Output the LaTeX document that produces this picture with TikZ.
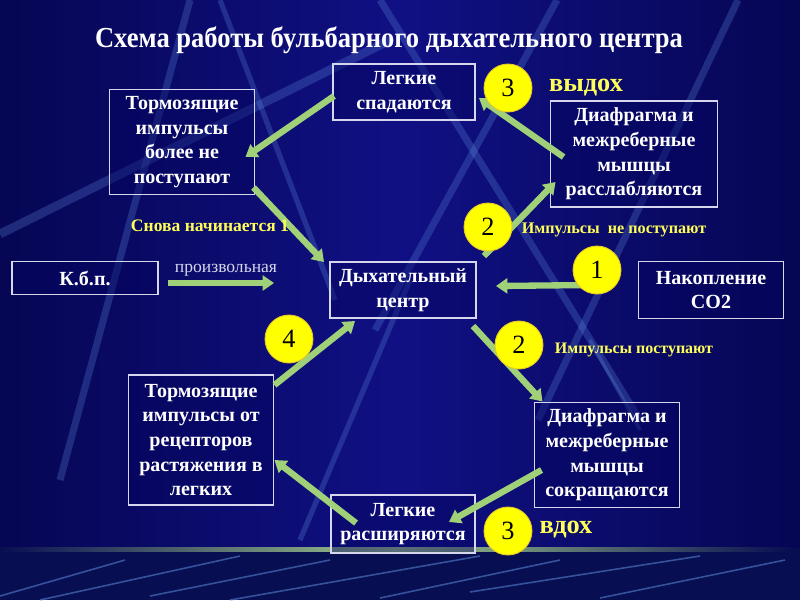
\documentclass[tikz,border=0pt]{standalone}
\usepackage{fontspec}
\setmainfont{Liberation Serif}
\usetikzlibrary{arrows.meta,calc}
\definecolor{bgdark}{RGB}{6,6,84}
\definecolor{bgmid}{RGB}{16,16,132}
\definecolor{bgband}{RGB}{8,14,82}
\definecolor{boxfill}{RGB}{4,4,96}
\definecolor{boxline}{RGB}{214,214,236}
\definecolor{arrowgreen}{RGB}{160,208,120}
\definecolor{numyellow}{RGB}{255,255,0}
\definecolor{numedge}{RGB}{230,200,40}
\definecolor{labelyellow}{RGB}{255,255,90}
\definecolor{streakblue}{RGB}{100,150,230}
\definecolor{bandline}{RGB}{160,200,140}
\begin{document}
\begin{tikzpicture}[x=0.02cm,y=-0.02cm]
\tikzset{
  box/.style={draw=boxline, line width=1.1pt, fill=boxfill, fill opacity=0.45, text opacity=1,
    text=white, align=center, inner sep=1pt,
    font=\bfseries\fontsize{11.4}{14}\selectfont},
  wh/.style 2 args={minimum width={#1*0.02cm}, minimum height={#2*0.02cm}},
  garrow/.style={draw=arrowgreen, line width=3.6pt, -{Triangle[width=8.5pt,length=6.5pt]}},
  num/.style={circle, fill=numyellow, draw=numedge, line width=0.5pt, minimum size=0.96cm,
    inner sep=0pt, text=black, font=\fontsize{15}{15}\selectfont},
  ylab/.style={text=labelyellow, inner sep=0pt},
  streak/.style={draw=streakblue, line width=#1, opacity=0.26},
  streak/.default=4pt,
  thinstreak/.style={draw=streakblue, line width=0.9pt, opacity=0.5}
}
\useasboundingbox (0,0) rectangle (800,600);
% background
\shade[left color=bgdark, right color=bgdark, middle color=bgmid] (0,0) rectangle (800,548);
\fill[bgband] (0,548) rectangle (800,600);
% streaks
\draw[streak=5pt] (0,234) -- (390,40);
\draw[streak] (190,0) -- (60,480);
\draw[streak=3pt] (220,0) -- (335,300);
\draw[streak] (557,0) -- (375,330);
\draw[streak] (380,0) -- (640,420);
\draw[streak] (738,0) -- (538,420);
\draw[streak=3pt] (410,280) -- (300,540);
\draw[streak=2pt] (590,340) -- (640,430);
% bottom band streaks
\draw[thinstreak] (0,596) -- (125,560);
\draw[thinstreak] (40,600) -- (240,556);
\draw[thinstreak] (150,596) -- (330,560);
\draw[thinstreak] (230,600) -- (480,556);
\draw[thinstreak] (380,598) -- (560,560);
\draw[thinstreak] (470,592) -- (700,556);
\draw[thinstreak] (600,598) -- (785,560);
\shade[left color=bgband, right color=bgband, middle color=bandline] (0,547) rectangle (790,551);
% title
\node[text=white, font=\bfseries\fontsize{16.5}{18}\selectfont, inner sep=0pt] (title) at (389,40)
  {\scalebox{0.916}[1]{Схема работы бульбарного дыхательного центра}};
% boxes
\node[box, wh={142}{56}] (lsp) at (404,92) {Легкие\\спадаются};
\node[box, wh={145}{105}] (tb1) at (182,142) {Тормозящие\\импульсы\\более не\\поступают};
\node[box, wh={167}{106}] (dr) at (634,154) {Диафрагма и\\межреберные\\мышцы\\расслабляются};
\node[box, wh={146}{33}] (kbp) at (85,278) {К.б.п.};
\node[box, wh={146}{56}] (dc) at (403,290) {Дыхательный\\центр};
\node[box, wh={145}{57}] (co2) at (711,290) {Накопление\\CO2};
\node[box, wh={145}{130}] (tb2) at (201,440) {Тормозящие\\импульсы от\\рецепторов\\растяжения в\\легких};
\node[box, wh={145}{105}] (ds) at (607,455) {Диафрагма и\\межреберные\\мышцы\\сокращаются};
\node[box, wh={144}{58}] (lr) at (403,524) {Легкие\\расширяются};
% arrows
\draw[garrow] ($(lsp.west)+(2,4)$) -- ($(tb1.east)+(-10,15)$);
\draw[garrow] ($(tb1.south east)+(-2,-8)$) -- ($(dc.north west)+(-5,1)$);
\draw[garrow] ($(dr.west)+(14,3)$) -- ($(lsp.east)+(3,6)$);
\draw[garrow] ($(dc.north east)+(7,-5)$) -- ($(dr.west)+(6,28)$);
\draw[garrow] ($(co2.west)+(-48,-5)$) -- ($(dc.east)+(19,-4)$);
\draw[garrow] ($(dc.south east)+(-4,7)$) -- ($(ds.north west)+(9,0)$);
\draw[garrow] ($(ds.west)+(8,15)$) -- ($(lr.east)+(-27,-2)$);
\draw[garrow] ($(lr.west)+(26,-1)$) -- ($(tb2.east)+(0,20)$);
\draw[garrow] ($(tb2.north east)+(0,11)$) -- ($(dc.south west)+(26,2)$);
\draw[garrow] ($(kbp.east)+(9,5)$) -- ($(dc.west)+(-55,-7)$);
% numbered circles
\node[num] (n3a) at (508,88) {3};
\node[num] (n2a) at (488,227) {2};
\node[num] (n1) at (597,270) {1};
\node[num] (n2b) at (519,345) {2};
\node[num] (n4) at (289,339) {4};
\node[num] (n3b) at (508,531) {3};
% labels
\node[ylab, font=\bfseries\fontsize{15}{15}\selectfont] (lexh) at (586,88) {выдох};
\node[ylab, font=\bfseries\fontsize{15}{15}\selectfont] (linh) at (566,530) {вдох};
\node[ylab, font=\bfseries\fontsize{10}{12}\selectfont] (lagain) at (210,226) {Снова начинается 1};
\node[ylab, font=\bfseries\fontsize{9.2}{11}\selectfont] (lnoimp) at (614,230) {Импульсы\ \ не поступают};
\node[ylab, font=\bfseries\fontsize{9.1}{11}\selectfont] (limp) at (634,350) {Импульсы поступают};
\node[text=boxline, inner sep=0pt, font=\fontsize{10}{12}\selectfont] (lvol) at (226,270) {произвольная};
\end{tikzpicture}
\end{document}
